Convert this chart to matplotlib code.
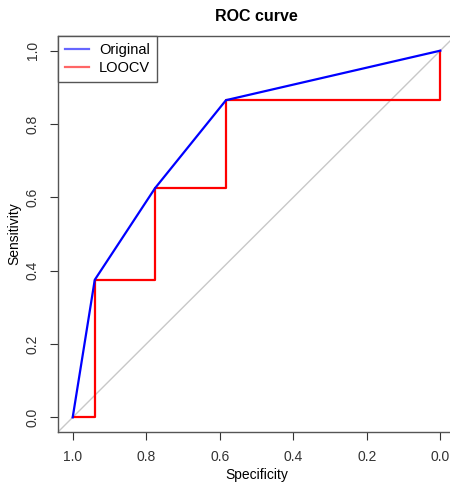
import matplotlib
matplotlib.use("Agg")
import matplotlib.pyplot as plt

# ROC points (specificity, sensitivity)
orig_spec = [1.0, 0.94, 0.776, 0.583, 0.0]
orig_sens = [0.0, 0.375, 0.625, 0.865, 1.0]

loocv_spec = [1.0, 0.94, 0.94, 0.776, 0.776, 0.583, 0.583, 0.0, 0.0]
loocv_sens = [0.0, 0.0, 0.375, 0.375, 0.625, 0.625, 0.865, 0.865, 1.0]

ticks = [1.0, 0.8, 0.6, 0.4, 0.2, 0.0]
tick_labels = ["1.0", "0.8", "0.6", "0.4", "0.2", "0.0"]

plt.rcParams["font.family"] = ["Liberation Sans", "DejaVu Sans"]

fig = plt.figure(figsize=(4.5, 4.82), dpi=100)
W, H = 450, 482
left, right, top, bottom = 58, 455, 36, 432
ax = fig.add_axes([left / W, 1 - bottom / H, (right - left) / W, (bottom - top) / H])

ax.set_xlim(1.04, -0.04)
ax.set_ylim(-0.04, 1.04)

ax.plot([1.1, -0.1], [-0.1, 1.1], color="#c8c8c8", lw=1, zorder=1)
ax.plot(loocv_spec, loocv_sens, color="#ff0000", lw=1.6, zorder=2, label="LOOCV")
ax.plot(orig_spec, orig_sens, color="#0000ff", lw=1.6, zorder=3, label="Original")

ax.set_xticks(ticks)
ax.set_xticklabels(tick_labels)
ax.set_yticks(ticks)
ax.set_yticklabels(tick_labels, rotation=90, va="center")
ax.tick_params(direction="out", length=6, width=0.8, colors="#333333",
               labelsize=10, pad=7)
for s in ax.spines.values():
    s.set_color("#555555")
    s.set_linewidth(1)

ax.set_xlabel("Specificity", fontsize=10, labelpad=3)
ax.set_ylabel("Sensitivity", fontsize=10, labelpad=3)
ax.set_title("ROC curve", fontsize=11.5, fontweight="bold", pad=11)

handles, labels = ax.get_legend_handles_labels()
leg = ax.legend(handles[::-1], labels[::-1], loc="upper left",
                bbox_to_anchor=(0, 1), borderaxespad=0, fancybox=False,
                framealpha=1, edgecolor="#555555", fontsize=10.5,
                handlelength=1.6, handletextpad=0.7, borderpad=0.5,
                labelspacing=0.25)
leg.get_frame().set_linewidth(1)
for line in leg.get_lines():
    line.set_alpha(0.6)

fig.savefig("out.png", dpi=100)
